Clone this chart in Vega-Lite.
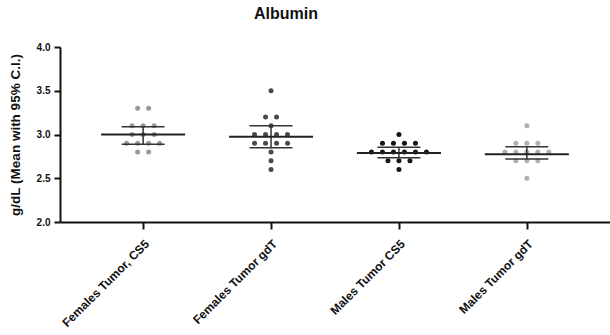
{
  "$schema": "https://vega.github.io/schema/vega-lite/v6.json",
  "width": 550,
  "height": 175,
  "autosize": "none",
  "padding": {"left": 60, "top": 47, "right": 0, "bottom": 113},
  "background": "white",
  "config": {"view": {"stroke": null}, "font": "Liberation Sans"},
  "title": {"text": "Albumin", "fontSize": 16, "fontWeight": "bold", "font": "Liberation Sans", "color": "#111", "dx": -49, "offset": 20},
  "datasets": {
    "pts": [
      {"g": "Females Tumor, CS5", "v": 3.3, "s": -0.5},
      {"g": "Females Tumor, CS5", "v": 3.3, "s": 0.5},
      {"g": "Females Tumor, CS5", "v": 3.1, "s": -1},
      {"g": "Females Tumor, CS5", "v": 3.1, "s": 0},
      {"g": "Females Tumor, CS5", "v": 3.1, "s": 1},
      {"g": "Females Tumor, CS5", "v": 3.0, "s": -1},
      {"g": "Females Tumor, CS5", "v": 3.0, "s": 0},
      {"g": "Females Tumor, CS5", "v": 3.0, "s": 1},
      {"g": "Females Tumor, CS5", "v": 2.9, "s": -1.5},
      {"g": "Females Tumor, CS5", "v": 2.9, "s": -0.5},
      {"g": "Females Tumor, CS5", "v": 2.9, "s": 0.5},
      {"g": "Females Tumor, CS5", "v": 2.9, "s": 1.5},
      {"g": "Females Tumor, CS5", "v": 2.8, "s": -0.5},
      {"g": "Females Tumor, CS5", "v": 2.8, "s": 0.5},
      {"g": "Females Tumor gdT", "v": 3.5, "s": 0},
      {"g": "Females Tumor gdT", "v": 3.2, "s": -0.5},
      {"g": "Females Tumor gdT", "v": 3.2, "s": 0.5},
      {"g": "Females Tumor gdT", "v": 3.1, "s": 0},
      {"g": "Females Tumor gdT", "v": 3.0, "s": -1.5},
      {"g": "Females Tumor gdT", "v": 3.0, "s": -0.5},
      {"g": "Females Tumor gdT", "v": 3.0, "s": 0.5},
      {"g": "Females Tumor gdT", "v": 3.0, "s": 1.5},
      {"g": "Females Tumor gdT", "v": 2.9, "s": -1.5},
      {"g": "Females Tumor gdT", "v": 2.9, "s": -0.5},
      {"g": "Females Tumor gdT", "v": 2.9, "s": 0.5},
      {"g": "Females Tumor gdT", "v": 2.9, "s": 1.5},
      {"g": "Females Tumor gdT", "v": 2.8, "s": 0},
      {"g": "Females Tumor gdT", "v": 2.7, "s": 0},
      {"g": "Females Tumor gdT", "v": 2.6, "s": 0},
      {"g": "Males Tumor CS5", "v": 3.0, "s": 0},
      {"g": "Males Tumor CS5", "v": 2.9, "s": -1.5},
      {"g": "Males Tumor CS5", "v": 2.9, "s": -0.5},
      {"g": "Males Tumor CS5", "v": 2.9, "s": 0.5},
      {"g": "Males Tumor CS5", "v": 2.9, "s": 1.5},
      {"g": "Males Tumor CS5", "v": 2.8, "s": -2.5},
      {"g": "Males Tumor CS5", "v": 2.8, "s": -1.5},
      {"g": "Males Tumor CS5", "v": 2.8, "s": -0.5},
      {"g": "Males Tumor CS5", "v": 2.8, "s": 0.5},
      {"g": "Males Tumor CS5", "v": 2.8, "s": 1.5},
      {"g": "Males Tumor CS5", "v": 2.8, "s": 2.5},
      {"g": "Males Tumor CS5", "v": 2.7, "s": -1},
      {"g": "Males Tumor CS5", "v": 2.7, "s": 0},
      {"g": "Males Tumor CS5", "v": 2.7, "s": 1},
      {"g": "Males Tumor CS5", "v": 2.6, "s": 0},
      {"g": "Males Tumor gdT", "v": 3.1, "s": 0},
      {"g": "Males Tumor gdT", "v": 2.9, "s": -1},
      {"g": "Males Tumor gdT", "v": 2.9, "s": 0},
      {"g": "Males Tumor gdT", "v": 2.9, "s": 1},
      {"g": "Males Tumor gdT", "v": 2.8, "s": -2},
      {"g": "Males Tumor gdT", "v": 2.8, "s": -1},
      {"g": "Males Tumor gdT", "v": 2.8, "s": 0},
      {"g": "Males Tumor gdT", "v": 2.8, "s": 1},
      {"g": "Males Tumor gdT", "v": 2.8, "s": 2},
      {"g": "Males Tumor gdT", "v": 2.7, "s": -1},
      {"g": "Males Tumor gdT", "v": 2.7, "s": 0},
      {"g": "Males Tumor gdT", "v": 2.7, "s": 1},
      {"g": "Males Tumor gdT", "v": 2.5, "s": 0}
    ],
    "sum": [
      {"g": "Females Tumor, CS5", "m": 3.0, "lo": 2.89, "hi": 3.09},
      {"g": "Females Tumor gdT", "m": 2.975, "lo": 2.85, "hi": 3.1},
      {"g": "Males Tumor CS5", "m": 2.79, "lo": 2.735, "hi": 2.855},
      {"g": "Males Tumor gdT", "m": 2.775, "lo": 2.72, "hi": 2.86}
    ]
  },
  "encoding": {
    "x": {
      "field": "g",
      "type": "nominal",
      "sort": null,
      "scale": {"type": "point", "padding": 0.65, "domain": ["Females Tumor, CS5", "Females Tumor gdT", "Males Tumor CS5", "Males Tumor gdT"]},
      "axis": {
        "title": null,
        "labelAngle": -45,
        "labelAlign": "right",
        "labelBaseline": "top",
        "labelFontSize": 12,
        "labelFontWeight": "bold",
        "labelColor": "#111",
        "labelPadding": 9,
        "tickSize": 7,
        "tickWidth": 2,
        "tickColor": "#111",
        "domainWidth": 2,
        "domainColor": "#111",
        "grid": false
      }
    }
  },
  "layer": [
    {
      "data": {"name": "pts"},
      "mark": {"type": "circle", "size": 25, "opacity": 1},
      "encoding": {
        "y": {
          "field": "v",
          "type": "quantitative",
          "scale": {"domain": [2, 4], "nice": false, "zero": false},
          "axis": {
            "title": "g/dL (Mean with 95% C.I.)",
            "titleFontSize": 13.5,
            "titleFontWeight": "bold",
            "titleColor": "#111",
            "titleX": -38,
            "values": [2, 2.5, 3, 3.5, 4],
            "format": ".1f",
            "labelFontSize": 10,
            "labelFontWeight": "bold",
            "labelColor": "#111",
            "labelPadding": 4,
            "tickSize": 6,
            "tickWidth": 2,
            "tickColor": "#111",
            "domainWidth": 2,
            "domainColor": "#111",
            "grid": false
          }
        },
        "xOffset": {"field": "s", "type": "quantitative", "scale": {"domain": [-1, 1], "range": [-11, 11]}},
        "color": {
          "field": "g",
          "type": "nominal",
          "legend": null,
          "scale": {"domain": ["Females Tumor, CS5", "Females Tumor gdT", "Males Tumor CS5", "Males Tumor gdT"], "range": ["#9a9a9a", "#4a4a4a", "#151515", "#b0b0b0"]}
        }
      }
    },
    {
      "data": {"name": "sum"},
      "mark": {"type": "rule", "strokeWidth": 1.5, "color": "#333"},
      "encoding": {"y": {"field": "lo", "type": "quantitative"}, "y2": {"field": "hi"}}
    },
    {
      "data": {"name": "sum"},
      "mark": {"type": "tick", "size": 84, "thickness": 2, "color": "#222", "opacity": 1},
      "encoding": {"y": {"field": "m", "type": "quantitative"}}
    },
    {
      "data": {"name": "sum"},
      "mark": {"type": "tick", "size": 43, "thickness": 1.5, "color": "#333", "opacity": 1},
      "encoding": {"y": {"field": "lo", "type": "quantitative"}}
    },
    {
      "data": {"name": "sum"},
      "mark": {"type": "tick", "size": 43, "thickness": 1.5, "color": "#333", "opacity": 1},
      "encoding": {"y": {"field": "hi", "type": "quantitative"}}
    }
  ]
}
